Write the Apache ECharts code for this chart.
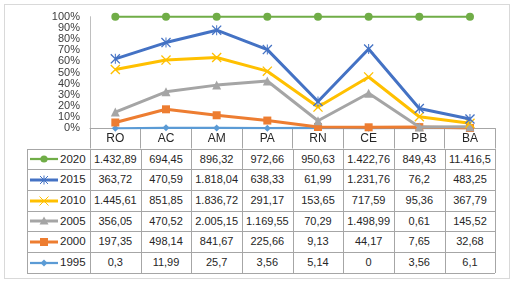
<!DOCTYPE html>
<html><head><meta charset="utf-8">
<script src="https://cdn.jsdelivr.net/npm/echarts@6/dist/echarts.min.js"></script>
<style>
html,body{margin:0;padding:0;background:#fff;}
#wrap{position:relative;width:517px;height:288px;overflow:hidden;}
#frame{position:absolute;left:4px;top:4px;width:504px;height:273px;border:1px solid #d9d9d9;}
#tbl{position:absolute;left:0;top:0;width:517px;height:288px;}
#chart{position:absolute;left:0;top:0;width:517px;height:288px;}
.hl{position:absolute;height:1px;background:#a6a6a6;}
.vl{position:absolute;width:1px;background:#a6a6a6;}
.cell{position:absolute;text-align:center;font-family:"Liberation Sans",Arial,sans-serif;font-size:11px;color:#262626;white-space:nowrap;}
.key{position:absolute;}
.yr{position:absolute;font-family:"Liberation Sans",Arial,sans-serif;font-size:11.5px;color:#262626;white-space:nowrap;}
</style></head>
<body>
<div id="wrap"><div id="frame"></div><div id="tbl"></div><div id="chart"></div></div>
<script>
const categories = ['RO','AC','AM','PA','RN','CE','PB','BA'];
const years = ['1995','2000','2005','2010','2015','2020'];
const v1995 = [0.3, 11.99, 25.7, 3.56, 5.14, 0, 3.56, 6.1];
const v2000 = [197.35, 498.14, 841.67, 225.66, 9.13, 44.17, 7.65, 32.68];
const v2005 = [356.05, 470.52, 2005.15, 1169.55, 70.29, 1498.99, 0.61, 145.52];
const v2010 = [1445.61, 851.85, 1836.72, 291.17, 153.65, 717.59, 95.36, 367.79];
const v2015 = [363.72, 470.59, 1818.04, 638.33, 61.99, 1231.76, 76.2, 483.25];
const v2020 = [1432.89, 694.45, 896.32, 972.66, 950.63, 1422.76, 849.43, 11416.5];
const yTicks = [0,10,20,30,40,50,60,70,80,90,100];

const values = [v1995, v2000, v2005, v2010, v2015, v2020];
const colors = ['#5B9BD5','#ED7D31','#A5A5A5','#FFC000','#4472C4','#70AD47'];
const starPath = 'path://M0,0.9 L0.9,0 L10,9.1 L9.1,10 Z M10,0.9 L1,10 L0,9.1 L9.1,0 Z M4.5,0 L5.5,0 L5.5,10 L4.5,10 Z';
const xPath = 'path://M0,0.9 L0.9,0 L10,9.1 L9.1,10 Z M10,0.9 L1,10 L0,9.1 L9.1,0 Z';
const symbols = ['diamond','rect','triangle',xPath,starPath,'circle'];
const symSizes = [7,8,9,10,10,8];
const widths = [2.25,3,3,3,3,2.25];

const totals = categories.map((c,i)=>values.reduce((s,a)=>s+a[i],0));
const pct = values.map(a=>a.map((v,i)=>v/totals[i]*100));

function fmt(v){
  const s = String(v); const parts = s.split('.');
  const intp = parts[0].replace(/\B(?=(\d{3})+(?!\d))/g,'.');
  return parts.length>1 ? intp+','+parts[1] : intp;
}

// layout constants
const gridLeft = 90, gridRight = 495.3, gridTop = 16.7, axisY = 128.3;
const tableLeft = 27, tableTop = 148.5, rowH = 20.7;
const colW = (gridRight-gridLeft)/categories.length;

function keySvg(k){
  const c = colors[k], w = widths[k];
  let m = '';
  const cx = 14, cy = 7;
  if(k===5) m = `<circle cx="${cx}" cy="${cy}" r="3.6" fill="${c}"/>`;
  else if(k===4) m = `<g stroke="${c}" stroke-width="1"><line x1="${cx-4}" y1="${cy-4}" x2="${cx+4}" y2="${cy+4}"/><line x1="${cx+4}" y1="${cy-4}" x2="${cx-4}" y2="${cy+4}"/><line x1="${cx}" y1="${cy-4.5}" x2="${cx}" y2="${cy+4.5}"/></g>`;
  else if(k===3) m = `<g stroke="${c}" stroke-width="1"><line x1="${cx-4.5}" y1="${cy-4.5}" x2="${cx+4.5}" y2="${cy+4.5}"/><line x1="${cx+4.5}" y1="${cy-4.5}" x2="${cx-4.5}" y2="${cy+4.5}"/></g>`;
  else if(k===2) m = `<polygon points="${cx},${cy-4.5} ${cx+4.5},${cy+3.5} ${cx-4.5},${cy+3.5}" fill="${c}"/>`;
  else if(k===1) m = `<rect x="${cx-4}" y="${cy-4}" width="8" height="8" fill="${c}"/>`;
  else m = `<polygon points="${cx},${cy-3.5} ${cx+3.5},${cy} ${cx},${cy+3.5} ${cx-3.5},${cy}" fill="${c}"/>`;
  return `<svg width="28" height="14" viewBox="0 0 28 14"><line x1="0" y1="7" x2="28" y2="7" stroke="${c}" stroke-width="${w}"/>${m}</svg>`;
}

// table
const tbl = document.getElementById('tbl');
const rowsOrder = [5,4,3,2,1,0];
let html = '';
const tableBottom = tableTop + rowH*rowsOrder.length;
for(let r=0;r<=rowsOrder.length;r++){
  const y = Math.round(tableTop + r*rowH);
  html += `<div class="hl" style="left:${tableLeft}px;top:${y}px;width:${Math.round(gridRight-tableLeft)}px"></div>`;
}
html += `<div class="vl" style="left:${tableLeft}px;top:${Math.round(tableTop)}px;height:${Math.round(tableBottom-tableTop)}px"></div>`;
for(let i=0;i<=categories.length;i++){
  const x = Math.round(gridLeft + i*colW);
  html += `<div class="vl" style="left:${x}px;top:${Math.round(tableTop)}px;height:${Math.round(tableBottom-tableTop)}px"></div>`;
}
rowsOrder.forEach((si,r)=>{
  const top = tableTop + r*rowH;
  html += `<div class="key" style="left:30px;top:${top+(rowH-14)/2+0.5}px;width:28px;height:14px">${keySvg(si)}</div>`;
  html += `<div class="yr" style="left:60px;top:${top}px;height:${rowH}px;line-height:${rowH+1}px">${years[si]}</div>`;
  values[si].forEach((v,c)=>{
    const left = gridLeft + c*colW;
    html += `<div class="cell" style="left:${left}px;top:${top}px;width:${colW}px;height:${rowH}px;line-height:${rowH+1}px">${fmt(v)}</div>`;
  });
});
tbl.innerHTML = html;

const chart = echarts.init(document.getElementById('chart'), null, {renderer:'canvas'});
chart.setOption({
  animation:false,
  backgroundColor:'transparent',
  grid:{left:gridLeft, right:517-gridRight, top:gridTop, bottom:288-axisY, containLabel:false},
  xAxis:{
    type:'category', data:categories, boundaryGap:true,
    axisLine:{lineStyle:{color:'#a6a6a6', width:1}},
    axisTick:{show:true, interval:0, length:tableTop-axisY, lineStyle:{color:'#a6a6a6'}},
    axisLabel:{margin:4, fontFamily:'Liberation Sans, Arial, sans-serif', fontSize:12, color:'#262626', interval:0}
  },
  yAxis:{
    type:'value', min:yTicks[0], max:yTicks[yTicks.length-1], interval:10,
    axisLine:{show:true, lineStyle:{color:'#bfbfbf'}},
    axisTick:{show:false},
    splitLine:{show:false},
    axisLabel:{formatter:'{value}%', margin:10, fontFamily:'Liberation Sans, Arial, sans-serif', fontSize:11, color:'#404040'}
  },
  series: years.map((y,k)=>({
    name:y, type:'line', stack:'total', data:pct[k],
    symbol:symbols[k], symbolSize:symSizes[k], showAllSymbol:true,
    lineStyle:{color:colors[k], width:widths[k]},
    itemStyle:{color:colors[k], borderWidth:0},
    z: 2+k
  }))
});
</script>
</body></html>
